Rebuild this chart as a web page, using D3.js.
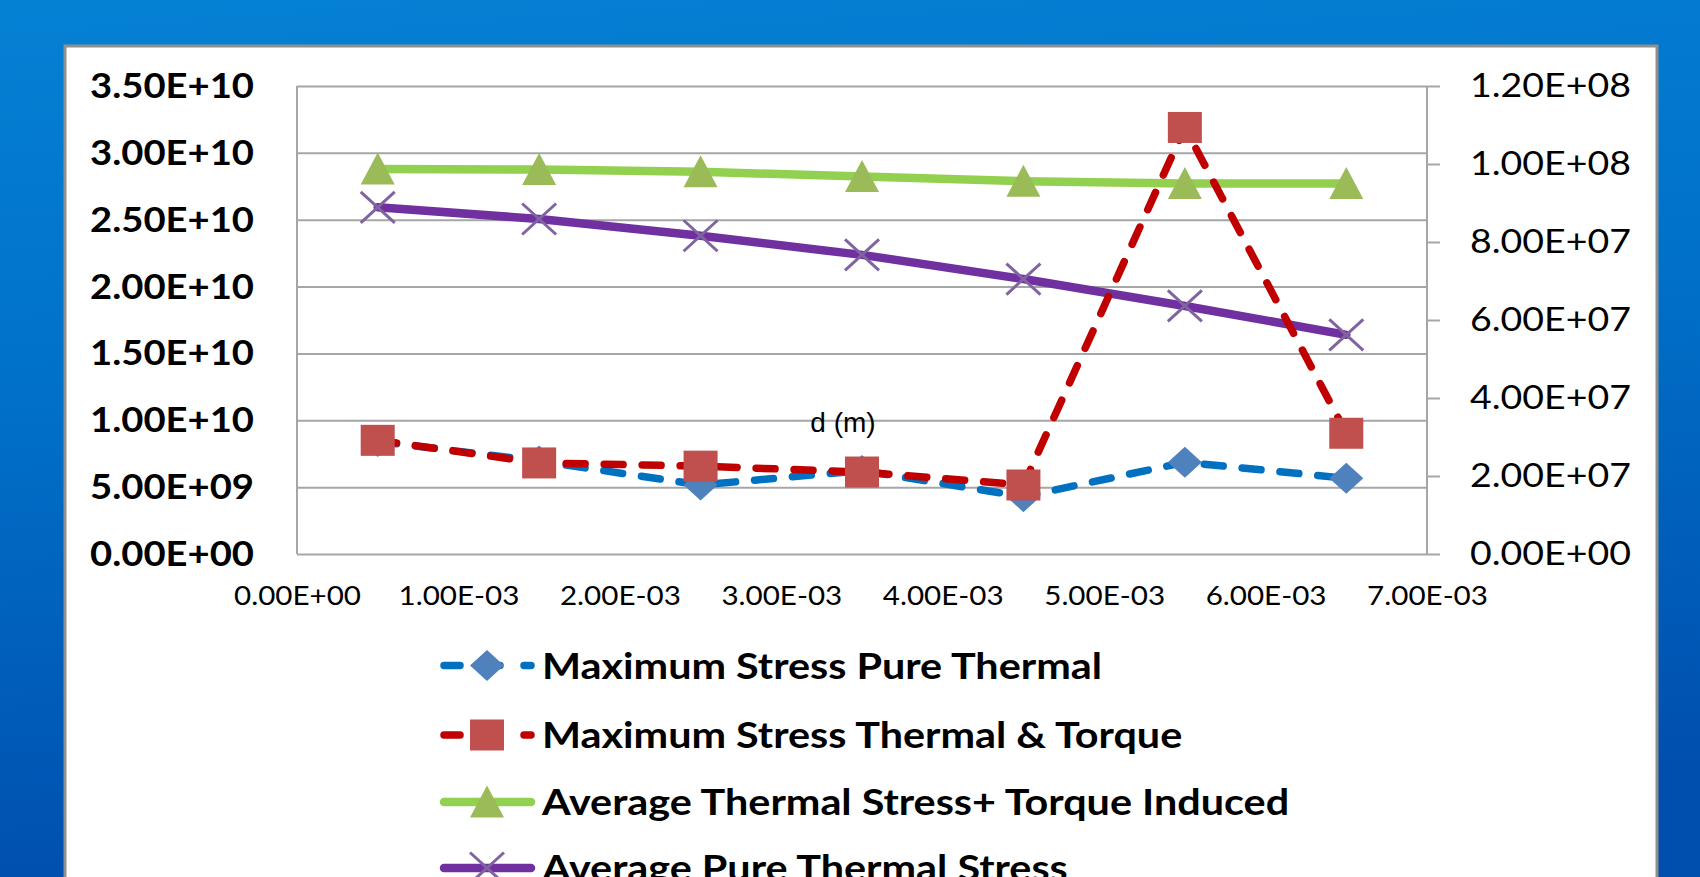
<!DOCTYPE html>
<html>
<head>
<meta charset="utf-8">
<script src="https://cdn.jsdelivr.net/npm/d3@7"></script>
<style>
  html, body { margin: 0; padding: 0; overflow: hidden; }
  svg { display: block; }
</style>
</head>
<body>
<svg id="chart" width="1700" height="877"></svg>
<script>
// Distance d (m) along the part
const dValues = [0.0005, 0.0015, 0.0025, 0.0035, 0.0045, 0.0055, 0.0065];

// Primary axis series (maximum stresses)
const maxPureThermal   = [8.42e9, 6.95e9, 5.16e9, 6.24e9, 4.29e9, 6.86e9, 5.66e9];
const maxThermalTorque = [8.50e9, 6.81e9, 6.57e9, 6.13e9, 5.16e9, 3.19e10, 9.03e9];

// Secondary axis series (average stresses)
const avgThermalTorque = [9.87e7, 9.86e7, 9.80e7, 9.68e7, 9.56e7, 9.50e7, 9.50e7];
const avgPureThermal   = [8.89e7, 8.59e7, 8.16e7, 7.67e7, 7.05e7, 6.36e7, 5.62e7];

// Axis ticks
const xTicks = [0, 0.001, 0.002, 0.003, 0.004, 0.005, 0.006, 0.007];
const leftTicks = [0, 5e9, 1e10, 1.5e10, 2e10, 2.5e10, 3e10, 3.5e10];
const rightTicks = [0, 2e7, 4e7, 6e7, 8e7, 1e8, 1.2e8];

const legendLabels = [
  "Maximum Stress Pure Thermal",
  "Maximum Stress Thermal & Torque",
  "Average Thermal Stress+ Torque Induced",
  "Average Pure Thermal Stress"
];
const axisTitle = "d (m)";

// Scientific notation in the 0.00E+00 style
function sci(v) {
  if (v === 0) return "0.00E+00";
  let e = Math.floor(Math.log10(Math.abs(v)));
  let m = v / Math.pow(10, e);
  if (Math.round(m * 100) / 100 >= 10) { m /= 10; e += 1; }
  const sign = e < 0 ? "-" : "+";
  const ae = Math.abs(e);
  return m.toFixed(2) + "E" + sign + (ae < 10 ? "0" + ae : "" + ae);
}

// Widen a group of labels so that its first label spans `width` pixels
function fitWidth(sel, width) {
  const nodes = sel.nodes();
  if (!nodes.length) return;
  const k = width / nodes[0].getComputedTextLength();
  nodes.forEach(n => {
    const len = n.getComputedTextLength();
    d3.select(n).attr("textLength", len * k).attr("lengthAdjust", "spacingAndGlyphs");
  });
}

const svg = d3.select("#chart");
const W = 1700, H = 877;
const FONT = "Lato, 'Open Sans', sans-serif";

// Blue slide background
const defs = svg.append("defs");
const bg = defs.append("linearGradient").attr("id", "bg")
  .attr("x1", 0).attr("y1", 0).attr("x2", 0.15).attr("y2", 1);
bg.append("stop").attr("offset", "0%").attr("stop-color", "#0581d4");
bg.append("stop").attr("offset", "45%").attr("stop-color", "#0070c8");
bg.append("stop").attr("offset", "100%").attr("stop-color", "#004fae");
svg.append("rect").attr("width", W).attr("height", H).attr("fill", "url(#bg)");

// White chart panel
svg.append("rect")
  .attr("x", 65).attr("y", 46).attr("width", 1592).attr("height", 900)
  .attr("fill", "#ffffff").attr("stroke", "#8f8f8f").attr("stroke-width", 3);

// Plot area
const plot = { left: 297, right: 1427, top: 86, bottom: 554 };

const x = d3.scaleLinear().domain([0, 0.007]).range([plot.left, plot.right]);
const yL = d3.scaleLinear().domain([0, 3.5e10]).range([plot.bottom, plot.top]);
const yR = d3.scaleLinear().domain([0, 1.2e8]).range([plot.bottom, plot.top]);

const gridColor = "#a6a6a6";

// Horizontal gridlines from the primary axis
svg.append("g")
  .attr("transform", `translate(${plot.left},0)`)
  .call(d3.axisLeft(yL).tickValues(leftTicks).tickSize(-(plot.right - plot.left)).tickFormat(""))
  .call(g => g.select(".domain").remove())
  .call(g => g.selectAll("line").attr("stroke", gridColor).attr("stroke-width", 2));

// Left axis line and labels
svg.append("line")
  .attr("x1", plot.left).attr("x2", plot.left)
  .attr("y1", plot.top).attr("y2", plot.bottom)
  .attr("stroke", gridColor).attr("stroke-width", 2);

const leftSize = 33.5;
const leftLabels = svg.append("g").selectAll("text").data(leftTicks).join("text")
  .attr("x", 254).attr("y", d => yL(d) + leftSize * 0.358)
  .attr("text-anchor", "end")
  .attr("font-family", FONT)
  .attr("font-weight", "bold").attr("font-size", leftSize)
  .attr("fill", "#000")
  .text(sci);
fitWidth(leftLabels, 164);

// Right (secondary) axis with outward ticks
const rightAxis = svg.append("g")
  .attr("transform", `translate(${plot.right},0)`)
  .call(d3.axisRight(yR).tickValues(rightTicks).tickSize(13).tickFormat(""));
rightAxis.select(".domain").attr("stroke", gridColor).attr("stroke-width", 2)
  .attr("d", `M0,${plot.top}V${plot.bottom}`);
rightAxis.selectAll(".tick line").attr("stroke", gridColor).attr("stroke-width", 2);

const rightSize = 32;
const rightLabels = svg.append("g").selectAll("text").data(rightTicks).join("text")
  .attr("x", 1470).attr("y", d => yR(d) + rightSize * 0.358)
  .attr("text-anchor", "start")
  .attr("font-family", FONT)
  .attr("font-size", rightSize)
  .attr("fill", "#000")
  .text(sci);
fitWidth(rightLabels, 161);

// X axis labels
const xAxis = svg.append("g")
  .attr("transform", `translate(0,${plot.bottom})`)
  .call(d3.axisBottom(x).tickValues(xTicks).tickSize(0).tickPadding(0).tickFormat(sci));
xAxis.select(".domain").remove();
const xLabels = xAxis.selectAll("text")
  .attr("y", 51).attr("dy", null)
  .attr("font-family", FONT)
  .attr("font-size", 26.5)
  .attr("fill", "#000");
fitWidth(xLabels, 127);

// Axis title sitting inside the plot
svg.append("text")
  .attr("x", 843).attr("y", 432)
  .attr("text-anchor", "middle")
  .attr("font-family", "'Liberation Sans', Arial, sans-serif")
  .attr("font-size", 28)
  .attr("fill", "#000")
  .text(axisTitle);

// Series definitions (drawn secondary first, then primary on top)
const series = [
  { key: 2, values: avgThermalTorque, y: yR, color: "#92d050", width: 8.5, dash: null, marker: "triangle", mcolor: "#9bbb59" },
  { key: 3, values: avgPureThermal,   y: yR, color: "#7030a0", width: 8.5, dash: null, marker: "x", mcolor: "#8064a2" },
  { key: 0, values: maxPureThermal,   y: yL, color: "#0070c0", width: 7.5, dash: "19,19", marker: "diamond", mcolor: "#4f81bd" },
  { key: 1, values: maxThermalTorque, y: yL, color: "#c00000", width: 7.5, dash: "19,19", marker: "square", mcolor: "#c0504d" }
];

const MW = 34, MH = 31; // marker box

function drawMarker(g, type, color, cx, cy) {
  const w = MW / 2, h = MH / 2;
  if (type === "square") {
    g.append("rect").attr("x", cx - w).attr("y", cy - h).attr("width", MW).attr("height", MH).attr("fill", color);
  } else if (type === "diamond") {
    g.append("path").attr("d", `M${cx},${cy - h}L${cx + w},${cy}L${cx},${cy + h}L${cx - w},${cy}Z`).attr("fill", color);
  } else if (type === "triangle") {
    g.append("path").attr("d", `M${cx},${cy - h - 1}L${cx + w},${cy + h}L${cx - w},${cy + h}Z`).attr("fill", color);
  } else if (type === "x") {
    g.append("path").attr("d", `M${cx - w},${cy - h}L${cx + w},${cy + h}M${cx + w},${cy - h}L${cx - w},${cy + h}`)
      .attr("stroke", color).attr("stroke-width", 3).attr("fill", "none");
  }
}

const seriesLayer = svg.append("g");
series.forEach(s => {
  const pts = dValues.map((d, i) => [x(d), s.y(s.values[i])]);
  const line = d3.line();
  seriesLayer.append("path")
    .attr("d", line(pts))
    .attr("fill", "none")
    .attr("stroke", s.color)
    .attr("stroke-width", s.width)
    .attr("stroke-linecap", "round")
    .attr("stroke-linejoin", "round")
    .attr("stroke-dasharray", s.dash);
  const mg = seriesLayer.append("g");
  pts.forEach(p => drawMarker(mg, s.marker, s.mcolor, p[0], p[1]));
});

// Legend, in series order
const legendRows = [665.5, 735, 802, 868];
const legendSize = 37;
const legend = svg.append("g");
const legendTexts = [];
legendLabels.forEach((label, i) => {
  const s = series.find(d => d.key === i);
  const ly = legendRows[i];
  legend.append("line")
    .attr("x1", 444).attr("x2", 531).attr("y1", ly).attr("y2", ly)
    .attr("stroke", s.color).attr("stroke-width", s.width)
    .attr("stroke-linecap", "round")
    .attr("stroke-dasharray", s.dash ? "16,24" : null);
  drawMarker(legend, s.marker, s.mcolor, 487, ly);
  legendTexts.push(legend.append("text")
    .attr("x", 542).attr("y", ly + legendSize * 0.358)
    .attr("font-family", FONT)
    .attr("font-weight", "bold").attr("font-size", legendSize)
    .attr("fill", "#000")
    .text(label).node());
});
fitWidth(d3.selectAll(legendTexts), 560);
</script>
</body>
</html>
